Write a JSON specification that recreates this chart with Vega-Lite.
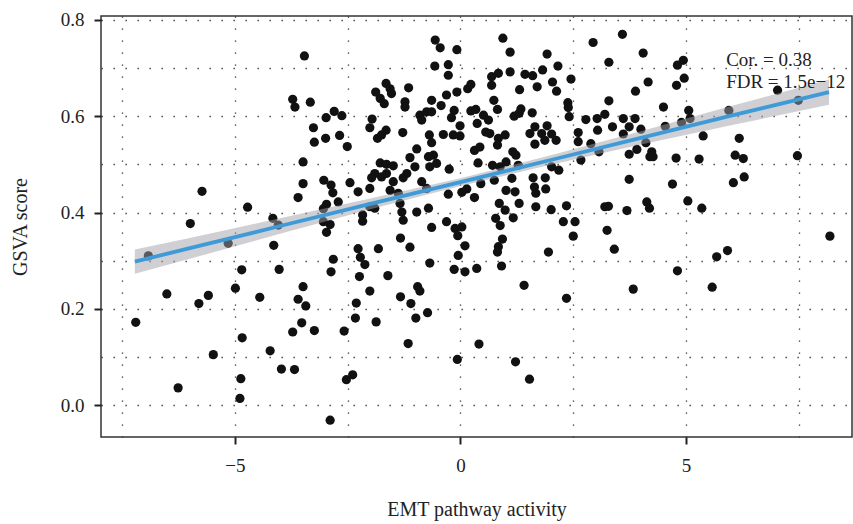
{
  "$schema": "https://vega.github.io/schema/vega-lite/v6.json",
  "width": 751,
  "height": 421,
  "autosize": {"type": "none"},
  "padding": {"left": 101, "top": 16, "right": 1, "bottom": 87},
  "background": "white",
  "config": {
    "view": {"stroke": "#333", "strokeWidth": 1.5},
    "font": "Liberation Serif"
  },
  "datasets": {
    "points": [
      {"emt":-7.20,"gsva":0.172},{"emt":-6.92,"gsva":0.310},{"emt":-6.51,"gsva":0.231},{"emt":-6.26,"gsva":0.036},{"emt":-5.99,"gsva":0.377},{"emt":-5.80,"gsva":0.211},{"emt":-5.73,"gsva":0.444},{"emt":-5.59,"gsva":0.228},{"emt":-5.48,"gsva":0.105},{"emt":-5.15,"gsva":0.336},{"emt":-4.99,"gsva":0.243},{"emt":-4.87,"gsva":0.055},{"emt":-4.89,"gsva":0.014},{"emt":-4.85,"gsva":0.281},{"emt":-4.84,"gsva":0.140},{"emt":-4.72,"gsva":0.411},{"emt":-4.45,"gsva":0.224},{"emt":-4.22,"gsva":0.113},{"emt":-4.16,"gsva":0.388},{"emt":-4.14,"gsva":0.332},{"emt":-4.04,"gsva":0.374},{"emt":-4.02,"gsva":0.282},{"emt":-3.97,"gsva":0.075},{"emt":-3.72,"gsva":0.635},{"emt":-3.67,"gsva":0.619},{"emt":-3.72,"gsva":0.152},{"emt":-3.68,"gsva":0.074},{"emt":-3.60,"gsva":0.431},{"emt":-3.60,"gsva":0.220},{"emt":-3.52,"gsva":0.171},{"emt":-3.49,"gsva":0.505},{"emt":-3.49,"gsva":0.460},{"emt":-3.49,"gsva":0.246},{"emt":-3.46,"gsva":0.725},{"emt":-3.43,"gsva":0.206},{"emt":-3.33,"gsva":0.629},{"emt":-3.26,"gsva":0.576},{"emt":-3.24,"gsva":0.546},{"emt":-3.24,"gsva":0.155},{"emt":-3.03,"gsva":0.467},{"emt":-2.99,"gsva":0.554},{"emt":-2.98,"gsva":0.597},{"emt":-2.97,"gsva":0.417},{"emt":-3.04,"gsva":0.408},{"emt":-3.04,"gsva":0.381},{"emt":-2.89,"gsva":0.375},{"emt":-2.97,"gsva":0.359},{"emt":-2.87,"gsva":0.457},{"emt":-2.83,"gsva":0.441},{"emt":-2.80,"gsva":0.610},{"emt":-2.71,"gsva":0.422},{"emt":-2.68,"gsva":0.560},{"emt":-2.63,"gsva":0.601},{"emt":-2.51,"gsva":0.537},{"emt":-2.45,"gsva":0.462},{"emt":-2.87,"gsva":0.277},{"emt":-2.82,"gsva":0.303},{"emt":-2.58,"gsva":0.154},{"emt":-2.89,"gsva":-0.031},{"emt":-2.53,"gsva":0.053},{"emt":-2.39,"gsva":0.063},
      {"emt":-2.27,"gsva":0.443},{"emt":-2.31,"gsva":0.212},{"emt":-2.33,"gsva":0.181},{"emt":-2.17,"gsva":0.395},{"emt":-2.17,"gsva":0.382},{"emt":-2.27,"gsva":0.325},{"emt":-2.22,"gsva":0.307},{"emt":-2.12,"gsva":0.292},{"emt":-2.24,"gsva":0.267},{"emt":-2.01,"gsva":0.576},{"emt":-1.96,"gsva":0.594},{"emt":-1.88,"gsva":0.650},{"emt":-1.78,"gsva":0.637},{"emt":-1.69,"gsva":0.626},{"emt":-1.65,"gsva":0.668},{"emt":-1.56,"gsva":0.657},{"emt":-1.53,"gsva":0.647},{"emt":-1.84,"gsva":0.554},{"emt":-1.75,"gsva":0.561},{"emt":-1.65,"gsva":0.571},{"emt":-1.78,"gsva":0.503},{"emt":-1.64,"gsva":0.500},{"emt":-1.49,"gsva":0.497},{"emt":-1.90,"gsva":0.481},{"emt":-1.64,"gsva":0.481},{"emt":-1.97,"gsva":0.472},{"emt":-1.75,"gsva":0.474},{"emt":-2.01,"gsva":0.450},{"emt":-1.49,"gsva":0.464},{"emt":-1.56,"gsva":0.446},{"emt":-2.01,"gsva":0.412},{"emt":-1.90,"gsva":0.409},{"emt":-1.82,"gsva":0.325},{"emt":-1.61,"gsva":0.269},{"emt":-2.01,"gsva":0.237},{"emt":-1.87,"gsva":0.173},
      {"emt":-1.28,"gsva":0.566},{"emt":-1.23,"gsva":0.630},{"emt":-1.23,"gsva":0.619},{"emt":-1.15,"gsva":0.659},{"emt":-1.12,"gsva":0.514},{"emt":-1.01,"gsva":0.495},{"emt":-1.19,"gsva":0.481},{"emt":-1.27,"gsva":0.472},{"emt":-1.38,"gsva":0.440},{"emt":-1.34,"gsva":0.419},{"emt":-1.30,"gsva":0.401},{"emt":-1.27,"gsva":0.384},{"emt":-1.33,"gsva":0.347},{"emt":-1.12,"gsva":0.328},{"emt":-1.33,"gsva":0.225},{"emt":-1.10,"gsva":0.211},{"emt":-1.16,"gsva":0.128},{"emt":-0.97,"gsva":0.532},{"emt":-0.90,"gsva":0.602},{"emt":-0.75,"gsva":0.609},{"emt":-0.64,"gsva":0.609},{"emt":-0.86,"gsva":0.592},{"emt":-0.69,"gsva":0.561},{"emt":-0.64,"gsva":0.545},{"emt":-0.71,"gsva":0.516},{"emt":-0.60,"gsva":0.519},{"emt":-0.53,"gsva":0.502},{"emt":-0.68,"gsva":0.495},{"emt":-0.86,"gsva":0.464},{"emt":-0.75,"gsva":0.450},{"emt":-0.97,"gsva":0.401},{"emt":-0.71,"gsva":0.409},{"emt":-0.64,"gsva":0.369},{"emt":-0.68,"gsva":0.295},{"emt":-0.95,"gsva":0.246},{"emt":-0.90,"gsva":0.237},{"emt":-0.99,"gsva":0.181},{"emt":-0.73,"gsva":0.192},{"emt":-0.64,"gsva":0.633},{"emt":-0.56,"gsva":0.758},{"emt":-0.45,"gsva":0.742},{"emt":-0.57,"gsva":0.704},{"emt":-0.43,"gsva":0.622},{"emt":-0.31,"gsva":0.644},{"emt":-0.38,"gsva":0.562},{"emt":-0.25,"gsva":0.490},{"emt":-0.31,"gsva":0.381},{"emt":-0.27,"gsva":0.707},{"emt":-0.27,"gsva":0.685},
      {"emt":-0.08,"gsva":0.738},{"emt":-0.08,"gsva":0.650},{"emt":-0.14,"gsva":0.612},{"emt":-0.20,"gsva":0.597},{"emt":-0.16,"gsva":0.561},{"emt":-0.01,"gsva":0.559},{"emt":-0.01,"gsva":0.580},{"emt":0.16,"gsva":0.657},{"emt":0.23,"gsva":0.666},{"emt":0.23,"gsva":0.611},{"emt":0.34,"gsva":0.614},{"emt":0.37,"gsva":0.585},{"emt":0.51,"gsva":0.602},{"emt":0.62,"gsva":0.592},{"emt":0.56,"gsva":0.567},{"emt":0.65,"gsva":0.564},{"emt":0.69,"gsva":0.664},{"emt":0.69,"gsva":0.682},{"emt":0.84,"gsva":0.689},{"emt":0.74,"gsva":0.633},{"emt":0.82,"gsva":0.614},{"emt":0.84,"gsva":0.554},{"emt":0.99,"gsva":0.561},{"emt":0.82,"gsva":0.540},{"emt":0.43,"gsva":0.536},{"emt":0.31,"gsva":0.529},{"emt":0.39,"gsva":0.503},{"emt":0.71,"gsva":0.498},{"emt":0.88,"gsva":0.495},{"emt":0.94,"gsva":0.762},{"emt":1.10,"gsva":0.733},{"emt":1.10,"gsva":0.692},{"emt":1.31,"gsva":0.655},{"emt":1.43,"gsva":0.687},{"emt":1.60,"gsva":0.684},{"emt":1.70,"gsva":0.661},{"emt":1.82,"gsva":0.696},{"emt":1.92,"gsva":0.729},{"emt":2.04,"gsva":0.671},{"emt":2.13,"gsva":0.652},{"emt":2.16,"gsva":0.704},{"emt":1.34,"gsva":0.615},{"emt":1.30,"gsva":0.606},{"emt":1.19,"gsva":0.600},{"emt":1.59,"gsva":0.607},{"emt":1.16,"gsva":0.526},{"emt":1.23,"gsva":0.519},{"emt":1.01,"gsva":0.505},{"emt":1.28,"gsva":0.498},{"emt":1.14,"gsva":0.471},{"emt":1.65,"gsva":0.578},{"emt":1.92,"gsva":0.580},{"emt":1.80,"gsva":0.564},{"emt":1.54,"gsva":0.564},{"emt":2.02,"gsva":0.563},{"emt":2.12,"gsva":0.550},{"emt":1.87,"gsva":0.550},{"emt":1.65,"gsva":0.542},{"emt":2.02,"gsva":0.495},{"emt":2.18,"gsva":0.488},{"emt":1.61,"gsva":0.472},{"emt":1.88,"gsva":0.472},{"emt":2.38,"gsva":0.628},{"emt":2.39,"gsva":0.618},{"emt":2.41,"gsva":0.599},{"emt":2.45,"gsva":0.677},{"emt":2.61,"gsva":0.566},{"emt":2.61,"gsva":0.547},{"emt":2.67,"gsva":0.509},{"emt":2.78,"gsva":0.593},{"emt":2.89,"gsva":0.543},{"emt":3.07,"gsva":0.526},{"emt":3.03,"gsva":0.595},{"emt":3.20,"gsva":0.604},{"emt":3.04,"gsva":0.571},{"emt":3.37,"gsva":0.578},{"emt":2.94,"gsva":0.753},{"emt":3.29,"gsva":0.712},{"emt":3.29,"gsva":0.632},
      {"emt":1.01,"gsva":0.446},{"emt":1.21,"gsva":0.443},{"emt":1.64,"gsva":0.453},{"emt":1.67,"gsva":0.440},{"emt":1.89,"gsva":0.449},{"emt":0.75,"gsva":0.467},{"emt":0.45,"gsva":0.460},{"emt":0.31,"gsva":0.431},{"emt":0.14,"gsva":0.449},{"emt":0.03,"gsva":0.442},{"emt":-0.27,"gsva":0.438},{"emt":0.86,"gsva":0.419},{"emt":0.99,"gsva":0.405},{"emt":1.30,"gsva":0.419},{"emt":1.67,"gsva":0.412},{"emt":2.01,"gsva":0.406},{"emt":2.35,"gsva":0.414},{"emt":3.20,"gsva":0.412},{"emt":3.28,"gsva":0.413},{"emt":1.17,"gsva":0.389},{"emt":0.78,"gsva":0.388},{"emt":0.88,"gsva":0.373},{"emt":2.28,"gsva":0.381},{"emt":2.54,"gsva":0.381},{"emt":2.50,"gsva":0.351},{"emt":3.25,"gsva":0.363},{"emt":-0.12,"gsva":0.367},{"emt":0.03,"gsva":0.370},{"emt":-0.06,"gsva":0.352},{"emt":0.10,"gsva":0.331},{"emt":-0.05,"gsva":0.311},{"emt":0.93,"gsva":0.345},{"emt":0.84,"gsva":0.329},{"emt":0.82,"gsva":0.318},{"emt":1.95,"gsva":0.318},{"emt":3.41,"gsva":0.324},{"emt":-0.14,"gsva":0.282},{"emt":0.10,"gsva":0.277},{"emt":0.36,"gsva":0.284},{"emt":0.91,"gsva":0.289},{"emt":1.41,"gsva":0.249},{"emt":2.35,"gsva":0.222},{"emt":0.41,"gsva":0.127},{"emt":-0.07,"gsva":0.095},{"emt":1.22,"gsva":0.090},{"emt":1.53,"gsva":0.054},
      {"emt":3.59,"gsva":0.770},{"emt":4.05,"gsva":0.731},{"emt":4.94,"gsva":0.716},{"emt":4.81,"gsva":0.706},{"emt":4.96,"gsva":0.679},{"emt":4.79,"gsva":0.664},{"emt":4.16,"gsva":0.671},{"emt":3.88,"gsva":0.652},{"emt":4.50,"gsva":0.619},{"emt":5.06,"gsva":0.612},{"emt":5.09,"gsva":0.595},{"emt":4.90,"gsva":0.587},{"emt":4.54,"gsva":0.579},{"emt":5.95,"gsva":0.612},{"emt":7.49,"gsva":0.633},{"emt":7.03,"gsva":0.654},{"emt":3.61,"gsva":0.595},{"emt":3.87,"gsva":0.595},{"emt":3.74,"gsva":0.578},{"emt":3.61,"gsva":0.563},{"emt":4.00,"gsva":0.573},{"emt":4.11,"gsva":0.545},{"emt":3.74,"gsva":0.521},{"emt":3.91,"gsva":0.531},{"emt":4.24,"gsva":0.526},{"emt":4.20,"gsva":0.516},{"emt":4.27,"gsva":0.516},{"emt":4.78,"gsva":0.513},{"emt":5.29,"gsva":0.511},{"emt":5.38,"gsva":0.559},{"emt":6.18,"gsva":0.554},{"emt":6.09,"gsva":0.519},{"emt":6.27,"gsva":0.512},{"emt":7.47,"gsva":0.518},{"emt":3.74,"gsva":0.469},{"emt":4.70,"gsva":0.459},{"emt":6.05,"gsva":0.462},{"emt":6.29,"gsva":0.474},{"emt":3.69,"gsva":0.404},{"emt":4.13,"gsva":0.422},{"emt":4.19,"gsva":0.409},{"emt":5.04,"gsva":0.424},{"emt":5.35,"gsva":0.409},{"emt":3.83,"gsva":0.241},{"emt":4.81,"gsva":0.279},{"emt":5.68,"gsva":0.308},{"emt":5.92,"gsva":0.321},{"emt":5.58,"gsva":0.245},{"emt":8.19,"gsva":0.351}
    ],
    "band": [
      {"emt":-7.22,"fit":0.298,"lo":0.273,"hi":0.323},
      {"emt":-6,"fit":0.326,"lo":0.304,"hi":0.347},
      {"emt":-4,"fit":0.372,"lo":0.356,"hi":0.388},
      {"emt":-2,"fit":0.418,"lo":0.407,"hi":0.429},
      {"emt":0,"fit":0.463,"lo":0.455,"hi":0.471},
      {"emt":2,"fit":0.509,"lo":0.499,"hi":0.519},
      {"emt":4,"fit":0.555,"lo":0.541,"hi":0.569},
      {"emt":6,"fit":0.601,"lo":0.581,"hi":0.621},
      {"emt":8.17,"fit":0.650,"lo":0.624,"hi":0.676}
    ],
    "annot": [
      {"emt":5.89,"gsva":0.717,"label":"Cor. = 0.38"},
      {"emt":5.89,"gsva":0.672,"label":"FDR = 1.5e−12"}
    ]
  },
  "layer": [
    {
      "data": {"name": "points"},
      "mark": {"type": "point", "filled": true, "shape": "circle", "size": 85, "color": "#111", "opacity": 1},
      "encoding": {
        "x": {"field": "emt", "type": "quantitative",
          "scale": {"domain": [-7.97, 8.68], "nice": false, "zero": false},
          "axis": {"orient": "bottom", "values": [-7.5, -5, -2.5, 0, 2.5, 5, 7.5], "grid": true, "gridColor": "#333", "gridDash": [1.3, 10.7], "gridWidth": 1.3, "ticks": false, "labels": false, "domain": false, "title": null}},
        "y": {"field": "gsva", "type": "quantitative",
          "scale": {"domain": [-0.066, 0.808], "nice": false, "zero": false},
          "axis": {"orient": "left", "values": [0, 0.1, 0.2, 0.3, 0.4, 0.5, 0.6, 0.7, 0.8], "grid": true, "gridColor": "#333", "gridDash": [1.3, 10.7], "gridWidth": 1.3, "ticks": false, "labels": false, "domain": false, "title": null}}
      }
    },
    {
      "data": {"name": "band"},
      "mark": {"type": "area", "color": "#a2a2aa", "opacity": 0.5},
      "encoding": {
        "x": {"field": "emt", "type": "quantitative",
          "scale": {"domain": [-7.97, 8.68], "nice": false, "zero": false},
          "axis": {"orient": "bottom", "values": [-5, 0, 5], "grid": false, "domain": false, "ticks": true, "tickSize": 7, "tickWidth": 2, "tickColor": "#222", "labelFontSize": 19, "labelFont": "Liberation Serif", "labelColor": "#222", "labelPadding": 12, "title": "EMT pathway activity", "titleFont": "Liberation Serif", "titleFontSize": 20, "titleFontWeight": "normal", "titleColor": "#222", "titlePadding": 24}},
        "y": {"field": "lo", "type": "quantitative",
          "scale": {"domain": [-0.066, 0.808], "nice": false, "zero": false},
          "axis": {"orient": "left", "values": [0, 0.2, 0.4, 0.6, 0.8], "format": ".1f", "grid": false, "domain": false, "ticks": true, "tickSize": 7, "tickWidth": 2, "tickColor": "#222", "labelFontSize": 19, "labelFont": "Liberation Serif", "labelColor": "#222", "labelPadding": 10, "title": "GSVA score", "titleFont": "Liberation Serif", "titleFontSize": 20, "titleFontWeight": "normal", "titleColor": "#222", "titlePadding": 30}},
        "y2": {"field": "hi"}
      }
    },
    {
      "data": {"name": "band"},
      "mark": {"type": "line", "color": "#3f9bd7", "strokeWidth": 3.8},
      "encoding": {
        "x": {"field": "emt", "type": "quantitative", "scale": {"domain": [-7.97, 8.68], "nice": false, "zero": false}, "axis": null},
        "y": {"field": "fit", "type": "quantitative", "scale": {"domain": [-0.066, 0.808], "nice": false, "zero": false}, "axis": null}
      }
    },
    {
      "data": {"name": "annot"},
      "mark": {"type": "text", "align": "left", "baseline": "middle", "fontSize": 19, "font": "Liberation Serif", "color": "#222"},
      "encoding": {
        "x": {"field": "emt", "type": "quantitative", "scale": {"domain": [-7.97, 8.68], "nice": false, "zero": false}, "axis": null},
        "y": {"field": "gsva", "type": "quantitative", "scale": {"domain": [-0.066, 0.808], "nice": false, "zero": false}, "axis": null},
        "text": {"field": "label"}
      }
    }
  ],
  "resolve": {"axis": {"x": "independent", "y": "independent"}}
}
